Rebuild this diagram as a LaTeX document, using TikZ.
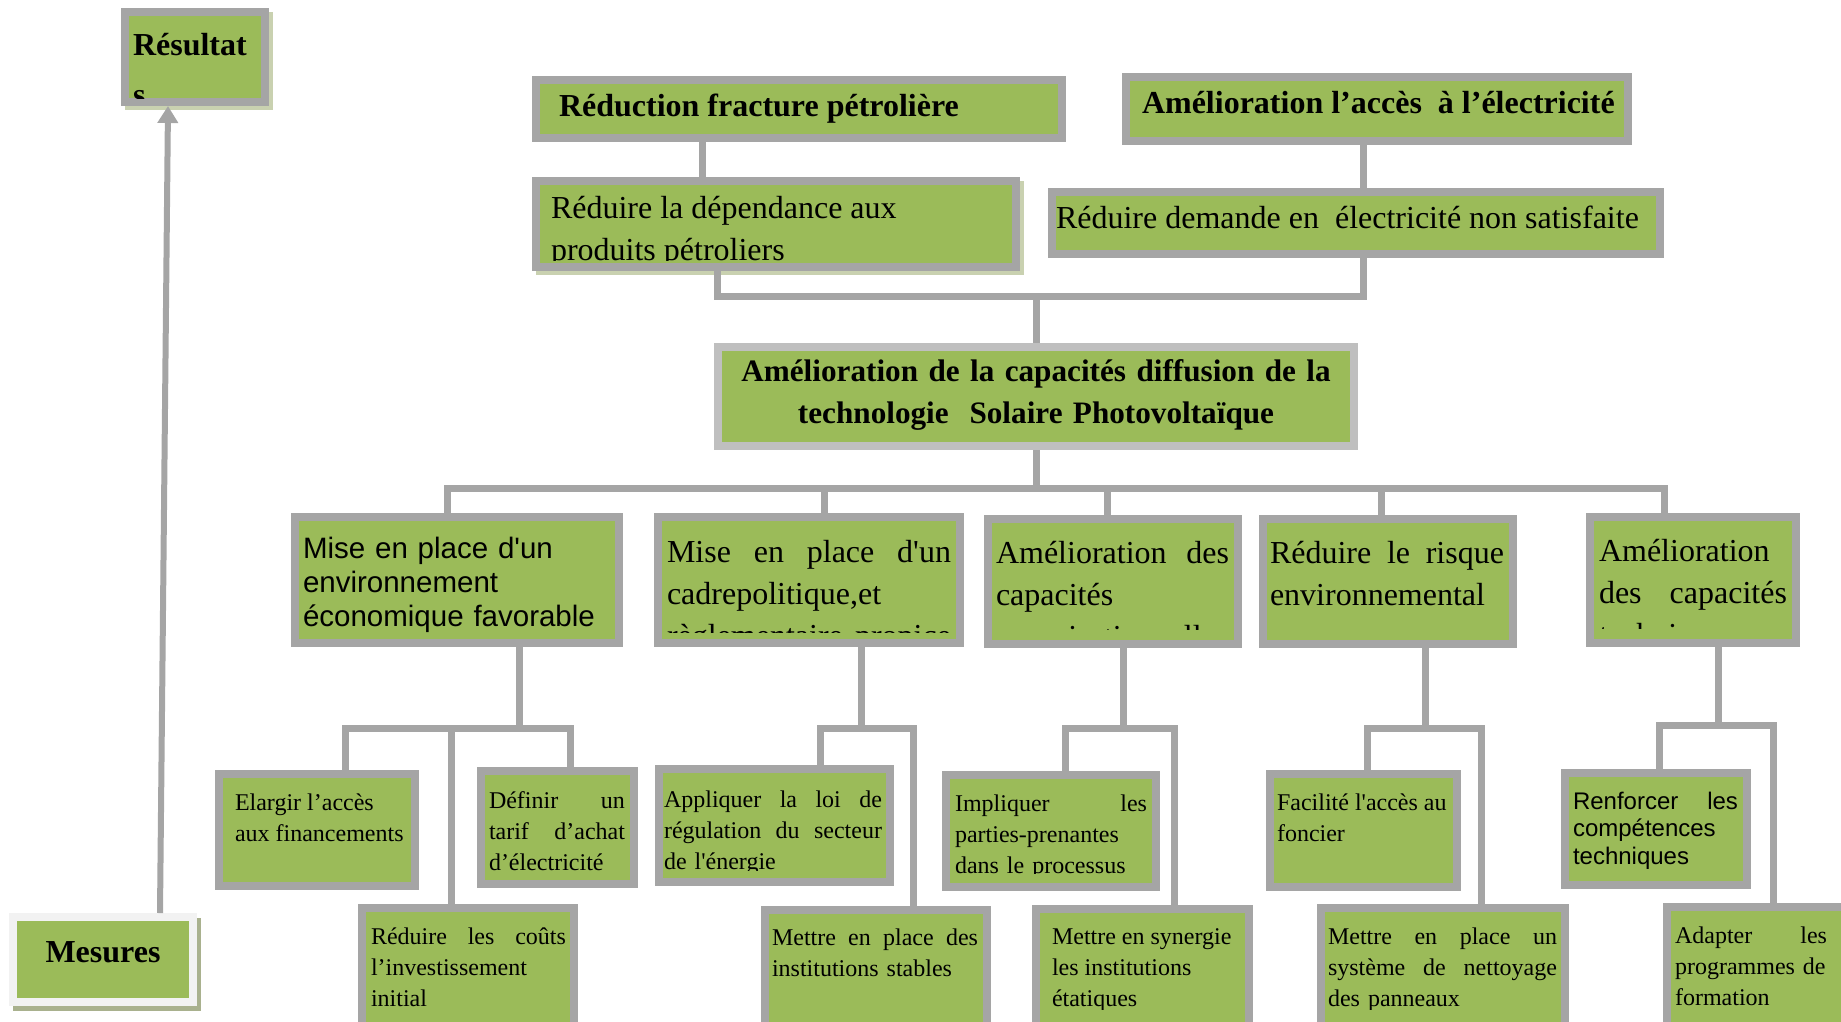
\documentclass[tikz,border=0pt]{standalone}
\usepackage{fontspec}
\newfontfamily\tnr{Liberation Serif}
\newfontfamily\ari{Liberation Sans}
\usetikzlibrary{arrows.meta,shadows}

\definecolor{leaf}{HTML}{9BBB59}
\definecolor{frame}{HTML}{A5A5A5}
\definecolor{framelt}{HTML}{BFBFBF}
\definecolor{framewh}{HTML}{F2F2F2}
\definecolor{shade}{HTML}{A9B18E}
\definecolor{shadelt}{HTML}{C9D1B0}

\tikzset{
  panel/.style={anchor=north west, fill=frame, inner sep=0pt, outer sep=0pt},
  conn/.style={draw=frame, line width=7pt},
  arr/.style={draw=frame, line width=6pt, -{Triangle[width=20pt,length=17pt]}},
  lbl/.style={inner sep=0pt, outer sep=0pt, anchor=north west, align=left},
  big/.style={lbl, font=\tnr\fontsize{32}{42}\selectfont},
  bigb/.style={lbl, font=\tnr\bfseries\fontsize{32}{42}\selectfont},
  small/.style={lbl, font=\tnr\fontsize{24}{31}\selectfont},
  sans/.style={lbl, font=\ari\fontsize{29.5}{34}\selectfont},
  sanssmall/.style={lbl, font=\ari\fontsize{24}{27.6}\selectfont},
  lightshadow/.style={drop shadow={fill=shadelt, opacity=1, shadow xshift=4pt, shadow yshift=-4pt}},
  darkshadow/.style={drop shadow={fill=shade, opacity=1, shadow xshift=4pt, shadow yshift=-5pt}},
}

% framed green panel: [style]{name}{x1}{y1}{x2}{y2}
\newcommand\panel[6][]{%
  \node[panel,#1,minimum width={#5-#3},minimum height={#6-#4}] (#2) at (#3,#4) {};
  \fill[leaf] ([shift={(8,8)}]#2.north west) rectangle ([shift={(-8,-8)}]#2.south east);
}
% text clipped to a panel: {panel}{bottom inset}{name}{style}{position}{text}
\newcommand\ptext[6]{%
  \begin{scope}
    \clip ([shift={(8,8)}]#1.north west) rectangle ([shift={(-8,-#2)}]#1.south east);
    \node[#4] (#3) at (#5) {\rule{0pt}{1em}#6};
  \end{scope}
}

\begin{document}
\begin{tikzpicture}[x=1pt,y=-1pt]
\useasboundingbox (0,0) rectangle (1841,1021);
\clip (0,0) rectangle (1841,1021);

% ---------- results ----------
\panel[lightshadow]{res}{121}{8}{269}{106}
\ptext{res}{8}{resT}{bigb,font=\tnr\bfseries\fontsize{32}{50}\selectfont}{133,55-32}{Résultat\\s}

\panel{red}{532}{76}{1066}{142}
\ptext{red}{8}{redT}{bigb}{559,116-32}{Réduction fracture pétrolière}

\panel{acc}{1122}{73}{1632}{145}
\ptext{acc}{8}{accT}{bigb}{1142,113-32}{Amélioration l’accès~~à l’électricité}

\panel[lightshadow]{dep}{532}{177}{1020}{271}
\ptext{dep}{11}{depT}{big}{551,218-32}{Réduire la dépendance aux\\produits pétroliers}

\panel{dem}{1048}{188}{1664}{258}
\ptext{dem}{8}{demT}{big}{1056,228-32}{Réduire demande en~~électricité non satisfaite}

% ---------- main objective ----------
\panel[fill=framelt]{main}{714}{343}{1358}{450}
\ptext{main}{8}{mainT}{bigb,font=\tnr\bfseries\fontsize{31.2}{42}\selectfont,anchor=north,align=center,text width=630}{1036,381-31.2}{Amélioration de la capacités diffusion de la\\technologie~~Solaire Photovoltaïque}

% ---------- intermediate objectives ----------
\panel{m1}{291}{513}{623}{647}
\ptext{m1}{8}{m1T}{sans,text width=310}{303,558-29.5}{Mise en place d'un\\environnement\\économique favorable}

\panel{m2}{654}{513}{964}{647}
\ptext{m2}{15}{m2T}{big,text width=284}{667,562-32}{Mise\hfill en\hfill place\hfill d'un\\cadrepolitique,et\\règlementaire\hfill propice}

\panel{m3}{984}{515}{1242}{648}
\ptext{m3}{19}{m3T}{big,text width=233}{996,563-32}{Amélioration\hfill des\\capacités\\organisationnelle}

\panel{m4}{1259}{515}{1517}{648}
\ptext{m4}{8}{m4T}{big,text width=234}{1270,563-32}{Réduire\hfill le\hfill risque\\environnemental}

\panel{m5}{1586}{513}{1800}{647}
\ptext{m5}{19}{m5T}{big,text width=188}{1599,561-32}{Amélioration\\des\hfill capacités\\techniques}

% ---------- measures ----------
\panel{ela}{215}{770}{419}{890}
\ptext{ela}{8}{elaT}{small}{235,810-24}{Elargir l’accès\\aux financements}

\panel{def}{477}{767}{638}{888}
\ptext{def}{8}{defT}{small,text width=136}{489,808-24}{Définir\hfill un\\tarif\hfill d’achat\\d’électricité}

\panel{cou}{358}{904}{578}{1040}
\ptext{cou}{8}{couT}{small,text width=195}{371,944-24}{Réduire\hfill les\hfill coûts\\l’investissement\\initial}

\panel{app}{655}{765}{894}{886}
\ptext{app}{16}{appT}{small,text width=218}{664,807-24}{Appliquer\hfill la\hfill loi\hfill de\\régulation\hfill du\hfill secteur\\de l'énergie}

\panel{ins}{761}{906}{991}{1040}
\ptext{ins}{8}{insT}{small,text width=206}{772,945-24}{Mettre\hfill en\hfill place\hfill des\\institutions stables}

\panel{imp}{942}{771}{1160}{891}
\ptext{imp}{18}{impT}{small,text width=192}{955,811-24}{Impliquer\hfill les\\parties-prenantes\\dans le processus}

\panel{syn}{1032}{905}{1253}{1040}
\ptext{syn}{31}{synT}{small}{1052,944-24}{Mettre en synergie\\les institutions\\étatiques}

\panel{fac}{1266}{770}{1461}{891}
\ptext{fac}{8}{facT}{small}{1277,810-24}{Facilité l'accès au\\foncier}

\panel{sys}{1317}{904}{1569}{1040}
\ptext{sys}{31}{sysT}{small,text width=229}{1328,944-24}{Mettre\hfill en\hfill place\hfill un\\système\hfill de\hfill nettoyage\\des panneaux}

\panel{ren}{1561}{769}{1751}{889}
\ptext{ren}{8}{renT}{sanssmall,text width=165}{1573,809-24}{Renforcer\hfill les\\compétences\\techniques}

\panel{ada}{1663}{903}{1850}{1040}
\ptext{ada}{8}{adaT}{small,text width=152}{1675,943-24}{Adapter\hfill les\\programmes~de\\formation}

\panel[fill=framewh,darkshadow]{mes}{9}{913}{197}{1006}
\ptext{mes}{8}{mesT}{bigb,anchor=north,align=center}{103,962-32}{Mesures}

% ---------- connectors, upper part ----------
\coordinate (k1) at (702,0);
\coordinate (k2) at (1363,0);
\draw[conn] (k1 |- red.south) -- (k1 |- dep.north);
\draw[conn] (k2 |- acc.south) -- (k2 |- dem.north);
\coordinate (j1) at (717,296);
\coordinate (j2) at (1363,296);
\draw[conn] (j1 |- dep.south) -- (j1) -- (j2) -- (j2 |- dem.south);
\draw[conn] (main.north |- j1) -- (main.north);

% ---------- connectors, main to intermediate ----------
\coordinate (d1) at (447,488);
\coordinate (d2) at (824,488);
\coordinate (d3) at (1107,488);
\coordinate (d4) at (1381,488);
\coordinate (d5) at (1664,488);
\draw[conn] (main.south) -- (main.south |- d1);
\draw[conn] (d1 |- m1.north) -- (d1) -- (d5) -- (d5 |- m5.north);
\draw[conn] (d2) -- (d2 |- m2.north);
\draw[conn] (d3) -- (d3 |- m3.north);
\draw[conn] (d4) -- (d4 |- m4.north);

% ---------- connectors, intermediate to measures ----------
\coordinate (g1p) at (519,728);
\coordinate (g1l) at (345,728);
\coordinate (g1m) at (451,728);
\coordinate (g1r) at (570,728);
\draw[conn] (g1p |- m1.south) -- (g1p);
\draw[conn] (g1l |- ela.north) -- (g1l) -- (g1r) -- (g1r |- def.north);
\draw[conn] (g1m) -- (g1m |- cou.north);

\coordinate (g2p) at (861,728);
\coordinate (g2l) at (820,728);
\coordinate (g2r) at (913,728);
\draw[conn] (g2p |- m2.south) -- (g2p);
\draw[conn] (g2l |- app.north) -- (g2l) -- (g2r) -- (g2r |- ins.north);

\coordinate (g3p) at (1123,728);
\coordinate (g3l) at (1065,728);
\coordinate (g3r) at (1174,728);
\draw[conn] (g3p |- m3.south) -- (g3p);
\draw[conn] (g3l |- imp.north) -- (g3l) -- (g3r) -- (g3r |- syn.north);

\coordinate (g4p) at (1425,728);
\coordinate (g4l) at (1367,728);
\coordinate (g4r) at (1481,728);
\draw[conn] (g4p |- m4.south) -- (g4p);
\draw[conn] (g4l |- fac.north) -- (g4l) -- (g4r) -- (g4r |- sys.north);

\coordinate (g5p) at (1718,725);
\coordinate (g5l) at (1659,725);
\coordinate (g5r) at (1773,725);
\draw[conn] (g5p |- m5.south) -- (g5p);
\draw[conn] (g5l |- ren.north) -- (g5l) -- (g5r) -- (g5r |- ada.north);

% ---------- measures lead to results ----------
\coordinate (a1) at (160,0);
\coordinate (a2) at (168,0);
\draw[arr] (a1 |- mes.north) -- (a2 |- res.south);
\end{tikzpicture}
\end{document}
